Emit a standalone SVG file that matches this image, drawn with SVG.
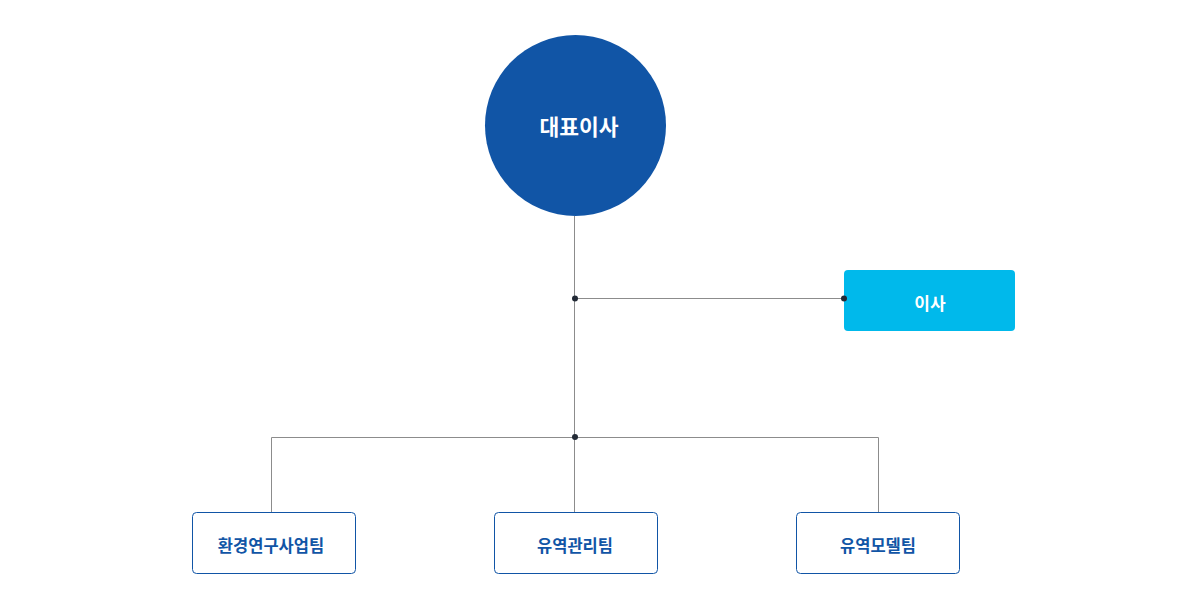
<svg xmlns="http://www.w3.org/2000/svg" width="1200" height="596" viewBox="0 0 1200 596">
<style>
text{font-family:"Noto Sans CJK KR","Noto Sans",sans-serif;font-weight:700;text-anchor:middle;dominant-baseline:central}
.line{stroke:#8c8c8c;stroke-width:1;fill:none}
.dot{fill:#222a36}
.team rect{fill:#fff;stroke:#1155a6;stroke-width:1}
.team text{fill:#1155a6;font-size:16.5px}
</style>
<rect width="1200" height="596" fill="#fff"/>
<g id="ceo">
<circle cx="575.5" cy="125.5" r="90.5" fill="#1155a6"/>
<text x="579" y="125" fill="#fff" font-size="21.5">대표이사</text>
</g>
<g id="director">
<rect x="844" y="270" width="171" height="61" rx="4" fill="#00b9eb"/>
<text x="930" y="302" fill="#fff" font-size="17">이사</text>
</g>
<g id="team1" class="team">
<rect x="192.5" y="512.5" width="163" height="61" rx="4"/>
<text x="271" y="545">환경연구사업팀</text>
</g>
<g id="team2" class="team">
<rect x="494.5" y="512.5" width="163" height="61" rx="4"/>
<text x="575" y="545">유역관리팀</text>
</g>
<g id="team3" class="team">
<rect x="796.5" y="512.5" width="163" height="61" rx="4"/>
<text x="878" y="545">유역모델팀</text>
</g>
<g id="connectors">
<path class="line" d="M574.5 216V512M575 298.5H844M271.5 512V437.5H878.5V512"/>
<circle class="dot" cx="575" cy="298.5" r="3"/>
<circle class="dot" cx="844" cy="298.5" r="3"/>
<circle class="dot" cx="575" cy="437" r="3"/>
</g>
</svg>
